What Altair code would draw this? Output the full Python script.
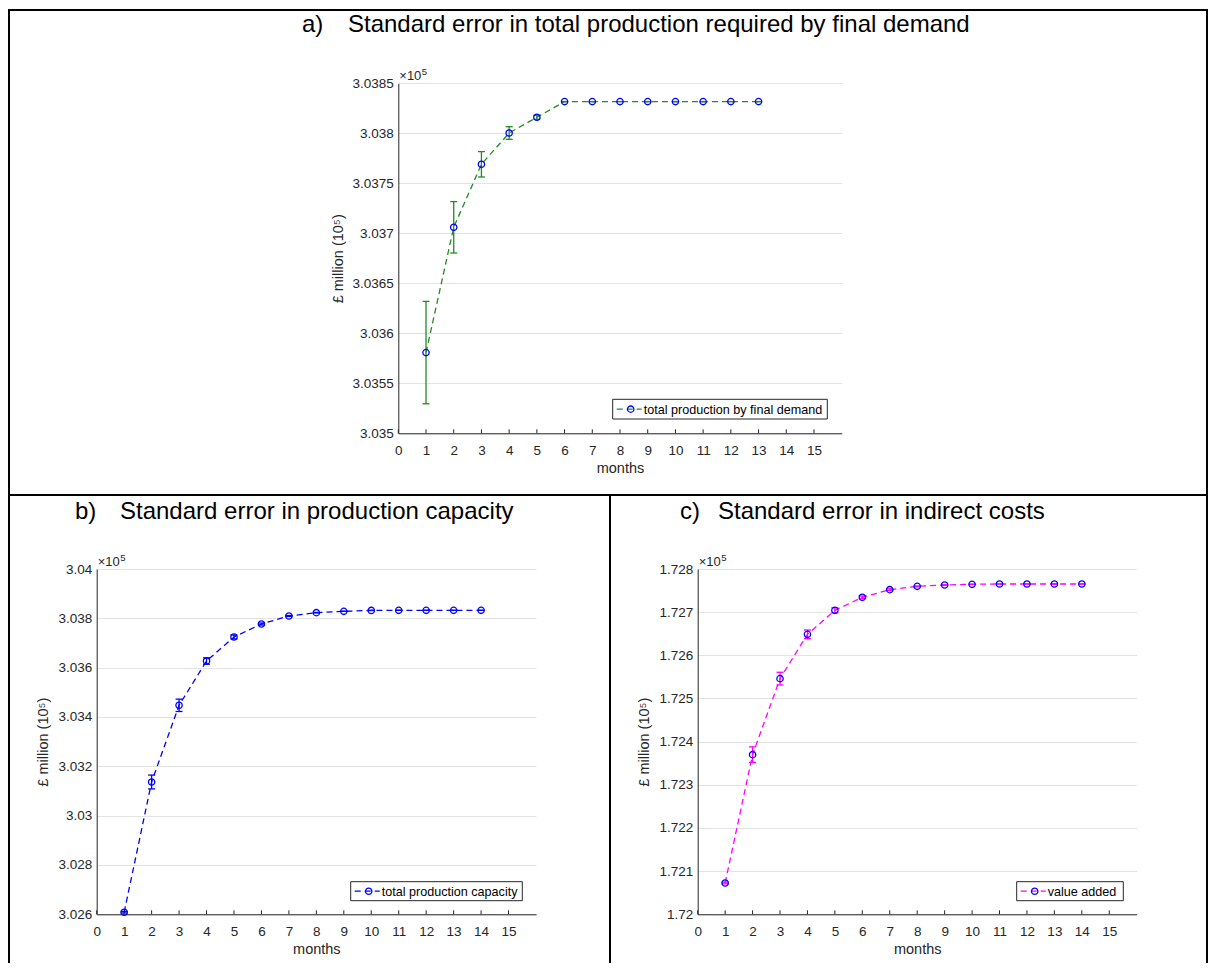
import altair as alt
import pandas as pd

# ---------------- data (values in units of 10^5 £ million) ----------------
x_ticks = list(range(0, 16))

months_a = list(range(1, 14))
total_final = [3.035807, 3.03706, 3.03769, 3.038003, 3.03816, 3.038317, 3.038317,
               3.038317, 3.038317, 3.038317, 3.038317, 3.038317, 3.038317]
err_final = [0.000512, 0.000257, 0.000127, 0.000063, 0.00002, 0, 0, 0, 0, 0, 0, 0, 0]
yticks_a = [3.035, 3.0355, 3.036, 3.0365, 3.037, 3.0375, 3.038, 3.0385]

months_b = list(range(1, 15))
capacity = [3.026081, 3.031365, 3.034473, 3.03627, 3.037243, 3.03777, 3.038095,
            3.03823, 3.038284, 3.03832, 3.038324, 3.038324, 3.038324, 3.038324]
err_capacity = [0.00003, 0.00028, 0.00025, 0.00013, 0.00008, 0.00004, 0.00002,
                0.00001, 0, 0, 0, 0, 0, 0]
yticks_b = [3.026, 3.028, 3.03, 3.032, 3.034, 3.036, 3.038, 3.04]

months_c = list(range(1, 15))
value_added = [1.720726, 1.723699, 1.72546, 1.726486, 1.727042, 1.727344, 1.727521,
               1.727598, 1.727629, 1.727645, 1.727653, 1.727653, 1.727653, 1.727653]
err_value = [0.00002, 0.00018, 0.000147, 0.0001, 0.00006, 0.00003, 0.00002,
             0.00001, 0, 0, 0, 0, 0, 0]
yticks_c = [1.72, 1.721, 1.722, 1.723, 1.724, 1.725, 1.726, 1.727, 1.728]

FONT = "Liberation Sans"
AX = "#262626"
GRID = "#e3e3e3"
MARKER = "#0000ff"


def make_panel(months, vals, errs, ydom, yticks, line_color, W, H, xr, yr,
               legend_box, legend_label, tag, title, tag_x, title_x, title_y,
               full_box):
    df = pd.DataFrame({"month": months, "value": vals, "err": errs})
    df["lo"] = df["value"] - df["err"]
    df["hi"] = df["value"] + df["err"]
    one = pd.DataFrame({"k": [0]})
    tdf = pd.DataFrame({"month": x_ticks})

    top, bot = yr
    xscale = alt.Scale(domain=[0, 16], range=[xr[0], xr[1]], nice=False, zero=False)
    yscale = alt.Scale(domain=list(ydom), range=[bot, top], nice=False, zero=False)

    xaxis = alt.Axis(values=x_ticks, title="months", grid=False, ticks=False,
                     tickSize=0, labelPadding=10, titlePadding=5,
                     offset=-(H - bot), labelFontSize=13.5, titleFontSize=14.5,
                     labelColor=AX, titleColor=AX, domainColor=AX,
                     labelFont=FONT, titleFont=FONT, titleFontWeight="normal",
                     labelFlush=False)
    yaxis = alt.Axis(values=yticks, format=".5~g", title="£ million (10⁵)",
                     grid=True, gridColor=GRID, ticks=False, tickSize=0,
                     labelPadding=5, titlePadding=7, offset=-xr[0],
                     labelFontSize=13.5, titleFontSize=14.5, labelColor=AX,
                     titleColor=AX, domainColor=AX, labelFont=FONT,
                     titleFont=FONT, titleFontWeight="normal", labelFlush=False)

    X = alt.X("month:Q", scale=xscale, axis=xaxis)
    Y = alt.Y("value:Q", scale=yscale, axis=yaxis)

    base = alt.Chart(df)
    line = base.mark_line(color=line_color, strokeDash=[6, 4], strokeWidth=1.3).encode(
        x=X, y=Y)
    err_rule = base.mark_rule(color=line_color, strokeWidth=1.3).encode(
        x=X, y=alt.Y("lo:Q", scale=yscale, axis=yaxis), y2="hi:Q")
    cap_lo = base.mark_tick(orient="horizontal", size=7, thickness=1.3,
                            color=line_color, opacity=1).encode(
        x=X, y=alt.Y("lo:Q", scale=yscale, axis=yaxis))
    cap_hi = base.mark_tick(orient="horizontal", size=7, thickness=1.3,
                            color=line_color, opacity=1).encode(
        x=X, y=alt.Y("hi:Q", scale=yscale, axis=yaxis))
    points = base.mark_point(shape="circle", filled=False, color=MARKER, size=40,
                             strokeWidth=1.3, opacity=1).encode(x=X, y=Y)

    ticks = alt.Chart(tdf).mark_rule(color=AX, strokeWidth=1).encode(
        x=X, y=alt.value(bot), y2=alt.value(bot - 4))

    exp_label = alt.Chart(one).mark_text(
        text="×10", align="left", baseline="alphabetic", font=FONT,
        fontSize=13, color=AX).encode(x=alt.value(xr[0] + 1), y=alt.value(top - 3))
    exp_sup = alt.Chart(one).mark_text(
        text="5", align="left", baseline="alphabetic", font=FONT,
        fontSize=9.5, color=AX).encode(x=alt.value(xr[0] + 23.5), y=alt.value(top - 8))

    lx0, lx1, ly0, ly1 = legend_box
    lmid = (ly0 + ly1) / 2
    leg_box = alt.Chart(one).mark_rect(fill="white", stroke=AX, strokeWidth=1).encode(
        x=alt.value(lx0), x2=alt.value(lx1), y=alt.value(ly0), y2=alt.value(ly1))
    leg_line = alt.Chart(one).mark_rule(color=line_color, strokeDash=[6, 4],
                                        strokeWidth=1.3).encode(
        x=alt.value(lx0 + 4), x2=alt.value(lx0 + 29), y=alt.value(lmid))
    leg_pt = alt.Chart(one).mark_point(shape="circle", filled=False, color=MARKER,
                                       size=40, strokeWidth=1.3, opacity=1).encode(
        x=alt.value(lx0 + 18), y=alt.value(lmid))
    leg_txt = alt.Chart(one).mark_text(
        text=legend_label, align="left", baseline="middle", font=FONT,
        fontSize=12.6, color="#000000").encode(
        x=alt.value(lx0 + 31), y=alt.value(lmid + 0.5))

    tag_txt = alt.Chart(one).mark_text(
        text=tag, align="left", baseline="middle", font=FONT, fontSize=24,
        color="#000000").encode(x=alt.value(tag_x), y=alt.value(title_y))
    title_txt = alt.Chart(one).mark_text(
        text=title, align="left", baseline="middle", font=FONT, fontSize=24,
        color="#000000").encode(x=alt.value(title_x), y=alt.value(title_y))

    if full_box:
        borders = [alt.Chart(one).mark_rect(filled=False, stroke="#000000",
                                            strokeWidth=2).encode(
            x=alt.value(0), x2=alt.value(W), y=alt.value(0), y2=alt.value(H))]
    else:
        borders = [
            alt.Chart(one).mark_rule(color="#000000", strokeWidth=2).encode(
                x=alt.value(0), x2=alt.value(W), y=alt.value(0)),
            alt.Chart(one).mark_rule(color="#000000", strokeWidth=2).encode(
                x=alt.value(0), y=alt.value(0), y2=alt.value(H)),
            alt.Chart(one).mark_rule(color="#000000", strokeWidth=2).encode(
                x=alt.value(W), y=alt.value(0), y2=alt.value(H)),
        ]

    return alt.layer(line, err_rule, cap_lo, cap_hi, points, ticks, exp_label,
                     exp_sup, leg_box, leg_line, leg_pt, leg_txt, tag_txt,
                     title_txt, *borders).properties(width=W, height=H)


W_A, H_A = 1198, 485
W_B, W_C, H_B = 601, 597, 468

panel_a = make_panel(
    months_a, total_final, err_final, (3.035, 3.0385), yticks_a, "#228B22",
    W_A, H_A, (389.3, 832.7), (73.3, 423.3), (603.7, 818.3, 389.3, 409.0),
    "total production by final demand", "a)",
    "Standard error in total production required by final demand",
    293, 339, 15, True)

panel_b = make_panel(
    months_b, capacity, err_capacity, (3.026, 3.04), yticks_b, "#0000ff",
    W_B, H_B, (87.7, 527.0), (74.0, 419.3), (341.7, 513.3, 386.7, 405.7),
    "total production capacity", "b)",
    "Standard error in production capacity",
    66, 111, 17, False)

panel_c = make_panel(
    months_c, value_added, err_value, (1.72, 1.728), yticks_c, "#ff00ff",
    W_C, H_B, (87.7, 526.7), (74.0, 419.3), (406.7, 513.3, 386.7, 405.7),
    "value added", "c)",
    "Standard error in indirect costs",
    70, 108, 17, False)

chart = alt.vconcat(
    panel_a,
    alt.hconcat(panel_b, panel_c, spacing=0, bounds="flush"),
    spacing=0, bounds="flush",
).properties(
    padding={"left": 0, "top": 1, "right": 0, "bottom": 0}
).configure_view(stroke=None)

chart.save("out.html", embed_options={"renderer": "svg", "actions": False})
